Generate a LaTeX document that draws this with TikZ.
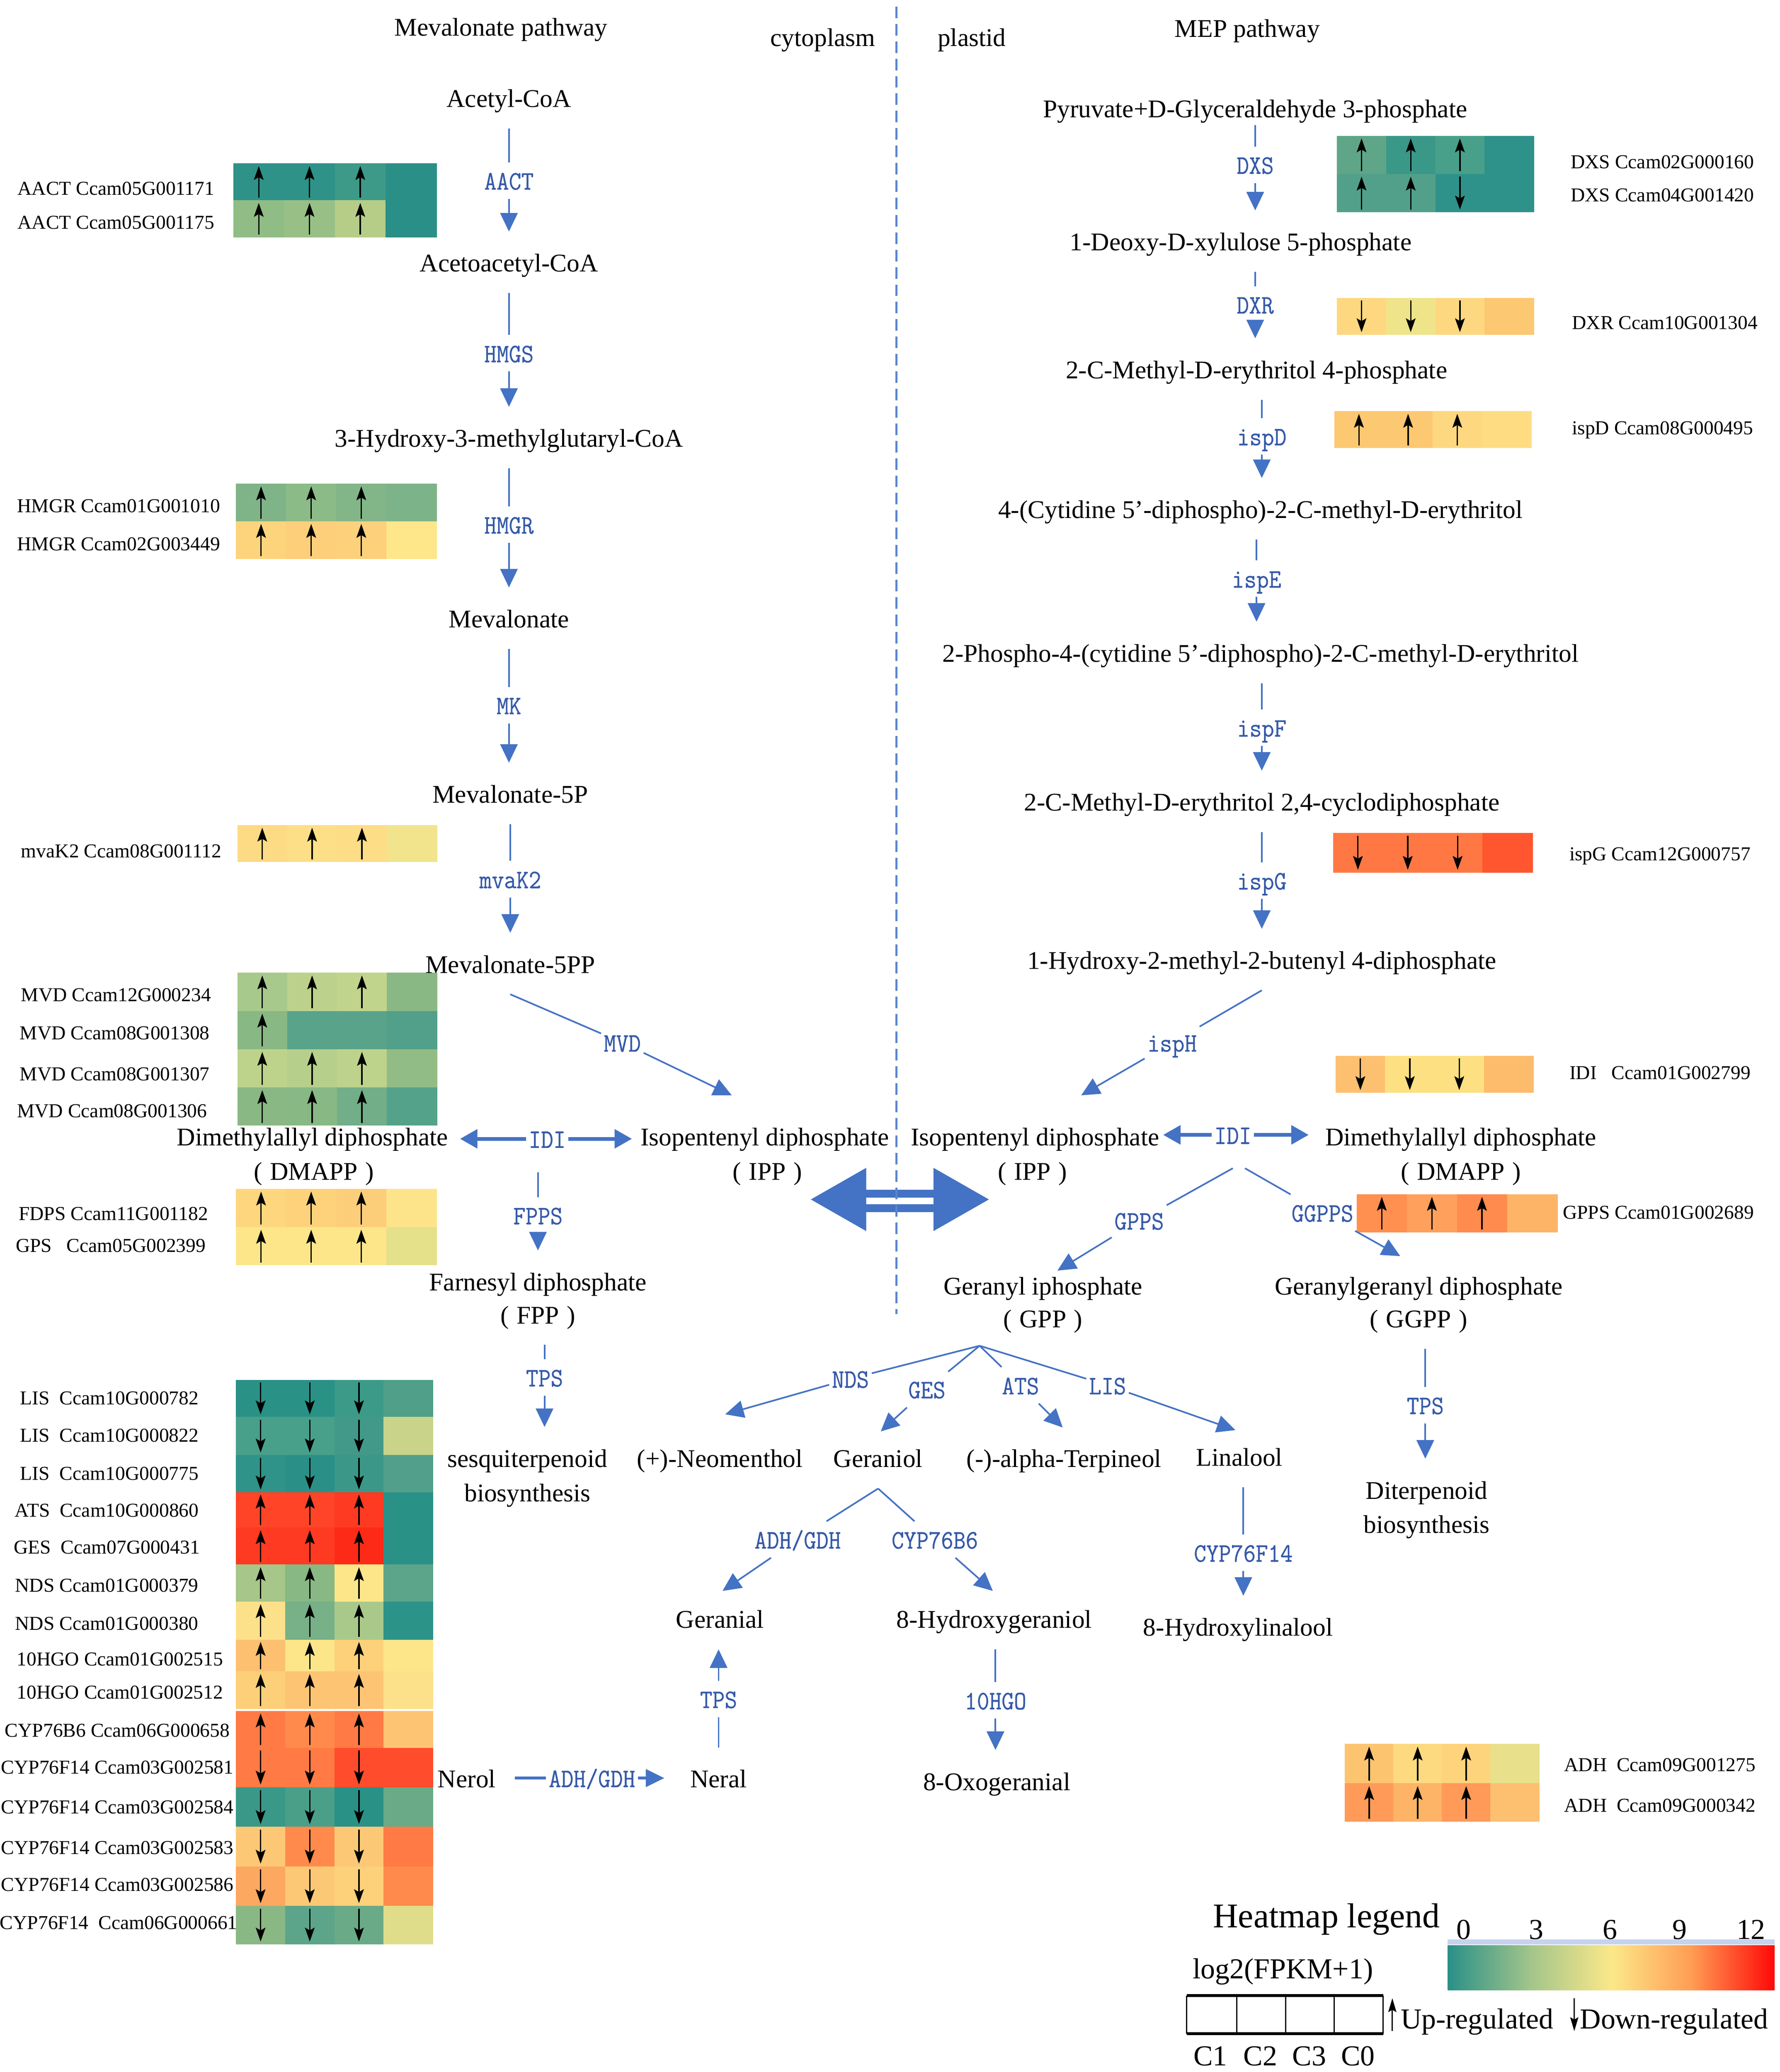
\documentclass[tikz,border=0pt]{standalone}
\usepackage{fontspec}
\setmainfont{Liberation Serif}
\newfontfamily\enzfam[FakeStretch=0.9,FakeBold=0.6]{Latin Modern Mono}
\usetikzlibrary{arrows.meta}
\definecolor{lnblue}{HTML}{4472C4}
\definecolor{enzblue}{HTML}{3559A8}
\definecolor{dashblue}{HTML}{5A86CC}
\definecolor{gA}{HTML}{2A9087}
\definecolor{gB}{HTML}{A2C58A}
\definecolor{gC}{HTML}{FCE88A}
\definecolor{gD}{HTML}{FF9A52}
\definecolor{gE}{HTML}{FF0808}
\definecolor{paleline}{HTML}{C6D3EE}
\newcommand\metfs{\fontsize{11}{13}\selectfont}
\newcommand\genefs{\fontsize{8.5}{10}\selectfont}
\newcommand\enzfs{\enzfam\fontsize{11.5}{13}\selectfont}
\newcommand\legfs{\fontsize{12.5}{15}\selectfont}
\newcommand\pp[1]{(\hspace{0.3em}#1\hspace{0.3em})}
\newcommand\heatrow[9]{%
  \foreach \hc [count=\k] in {#5,#6,#7,#8}{%
    \edef\tmpdef{\noexpand\definecolor{hmc}{HTML}{\hc}}\tmpdef
    \fill[hmc] ({#1+(\k-1)*#4},{#2}) rectangle ({#1+\k*#4+0.4},{#2+#3});
  }%
  \foreach \ha [count=\k] in {#9}{%
    \if u\ha \draw[hmarrow] ({#1+(\k-0.5)*#4},{#2+0.93*#3}) -- ({#1+(\k-0.5)*#4},{#2+0.07*#3});\fi
    \if d\ha \draw[hmarrow] ({#1+(\k-0.5)*#4},{#2+0.07*#3}) -- ({#1+(\k-0.5)*#4},{#2+0.93*#3});\fi
  }%
}
\begin{document}
\begin{tikzpicture}[x=0.02cm,y=-0.02cm,
  met/.style={font=\metfs, inner xsep=0pt, inner ysep=0pt, text height=10.4pt, text depth=2.2pt, minimum height=0.92cm},
  enz/.style={font=\enzfs, text=enzblue, inner xsep=1pt, inner ysep=0pt, text height=9.8pt, text depth=2pt, minimum height=0.54cm},
  idi/.style={enz, minimum height=1cm},
  gene/.style={font=\genefs, inner sep=0pt, text height=8.3pt, text depth=1.7pt},
  leg/.style={font=\legfs, inner sep=0pt, text height=14pt, text depth=2.5pt},
  conn/.style={draw=lnblue, line width=0.7pt},
  arr/.style={conn, -{Triangle[length=8pt,width=7.5pt]}},
  harr/.style={draw=lnblue, line width=1.6pt, -{Triangle[length=7.5pt,width=8pt]}},
  hmarrow/.style={black, line width=0.6pt, -{Stealth[length=6pt,width=4.2pt,inset=1.2pt]}},
]
\useasboundingbox (0,0) rectangle (1350,1572);

% ---------- titles ----------
\node[met] (ttlMVA) at (380,20) {Mevalonate pathway};
\node[met] (ttlCyto) at (624,28) {cytoplasm};
\node[met] (ttlPlas) at (737,28) {plastid};
\node[met] (ttlMEP) at (946,21) {MEP pathway};

% ---------- heatmaps (left) ----------
\heatrow{177}{124}{28}{38.5}{2E9288}{2E9288}{3E9A88}{2A8F87}{u,u,u,n}
\heatrow{177}{152}{28}{38.5}{8FBD85}{98C086}{B6CD88}{2A8F87}{u,u,u,n}
\heatrow{179}{367}{28.5}{38}{7FB488}{8BBB87}{82B688}{7DB388}{u,u,u,n}
\heatrow{179}{395.5}{28.5}{38}{FDD47C}{FDCF7A}{FDD07B}{FEE68A}{u,u,u,n}
\heatrow{180}{626}{28}{37.8}{FDDB84}{FDDF87}{FDDD85}{F2E48C}{u,u,u,n}
\heatrow{180}{738}{29}{37.8}{A8C98C}{BCD28C}{C1D48C}{8AB884}{u,u,u,n}
\heatrow{180}{767}{29}{37.8}{88B884}{58A38A}{58A38A}{52A089}{u,n,n,n}
\heatrow{180}{796}{29}{37.8}{BDD38C}{B6CF8B}{BDD38C}{92BC85}{u,u,u,n}
\heatrow{180}{825}{29}{37.8}{8AB884}{88B884}{72AE87}{55A28A}{u,u,u,n}
\heatrow{179}{902}{29}{38}{FDD67E}{FDD27B}{FDCE7A}{FDE48A}{u,u,u,n}
\heatrow{179}{931}{29}{38}{FDE68A}{FDE68A}{FDE68A}{E5E08A}{u,u,u,n}
\heatrow{179}{1047}{28}{37.3}{2A9187}{2A9187}{3C9A89}{4F9F89}{d,d,d,n}
\heatrow{179}{1075}{29}{37.3}{48A08A}{48A08A}{42998A}{C9D48A}{d,d,d,n}
\heatrow{179}{1104}{28}{37.3}{2F938A}{2A9087}{3B9889}{52A08B}{d,d,d,n}
\heatrow{179}{1132}{27}{37.3}{FF4428}{FF4428}{FF3A22}{2A9187}{u,u,u,n}
\heatrow{179}{1159}{28}{37.3}{FF3A22}{FF3A22}{FD2A18}{2A9187}{u,u,u,n}
\heatrow{179}{1187}{28}{37.3}{A7C68A}{88B884}{FDE68A}{5CA48A}{u,u,u,n}
\heatrow{179}{1215}{29}{37.3}{FDE18A}{78B087}{A9C98A}{2C9389}{u,u,u,n}
\heatrow{179}{1244}{24}{37.3}{FDC070}{FDE68A}{FDD07A}{FDE68A}{u,u,u,n}
\heatrow{179}{1268}{28.5}{37.3}{FDCF78}{FDC474}{FDC474}{FDE08A}{u,u,u,n}
\heatrow{179}{1298}{28}{37.3}{FF7A44}{FF8A4C}{FF7A44}{FDC474}{u,u,u,n}
\heatrow{179}{1326}{30}{37.3}{FF7A44}{FF7A44}{FF4C2C}{FF4C2C}{d,d,d,n}
\heatrow{179}{1356}{30}{37.3}{3A9889}{4A9F89}{2A9187}{6AAA87}{d,d,d,n}
\heatrow{179}{1386}{30}{37.3}{FDC876}{FF8A4C}{FDC876}{FF7A44}{d,d,d,n}
\heatrow{179}{1416}{30}{37.3}{FDA860}{FDC876}{FDD07A}{FF8A4C}{d,d,d,n}
\heatrow{179}{1446}{29}{37.3}{8AB884}{5CA48A}{6AAA87}{E0DD8A}{d,d,d,n}

% ---------- heatmaps (right) ----------
\heatrow{1014}{103}{29}{37.3}{5FA689}{3A9889}{48A08A}{2E928A}{u,u,u,n}
\heatrow{1014}{132}{29}{37.3}{52A08A}{52A08A}{2F928A}{2E928A}{u,u,d,n}
\heatrow{1014}{226}{28}{37.3}{FDD880}{F0E48A}{FDD880}{FDC872}{d,d,d,n}
\heatrow{1012}{312}{28}{37.3}{FDC872}{FDC872}{FDD880}{FDDC82}{u,u,u,n}
\heatrow{1011}{632}{30}{37.8}{FF7844}{FF7844}{FF7844}{FF5630}{d,d,d,n}
\heatrow{1013}{801}{28}{37.5}{FDC070}{FDE082}{FDE082}{FDBC6C}{d,d,d,n}
\heatrow{1029}{906}{29}{38}{FF9050}{FFA05C}{FF8C4E}{FDB466}{u,u,u,n}
\heatrow{1020}{1323}{30}{36.8}{FDC470}{FDDA80}{FDD47C}{E8E08A}{u,u,u,n}
\heatrow{1020}{1353}{29}{36.8}{FF9A58}{FDB466}{FF9A58}{FDC070}{u,u,u,n}

% ---------- gene labels ----------
\node[gene] (gAACT1) at (88,142) {AACT Ccam05G001171};
\node[gene] (gAACT2) at (88,168) {AACT Ccam05G001175};
\node[gene] (gHMGR1) at (90,383) {HMGR Ccam01G001010};
\node[gene] (gHMGR2) at (90,412) {HMGR Ccam02G003449};
\node[gene] (gMVAK) at (92,645) {mvaK2 Ccam08G001112};
\node[gene] (gMVD1) at (88,754) {MVD Ccam12G000234};
\node[gene] (gMVD2) at (87,783) {MVD Ccam08G001308};
\node[gene] (gMVD3) at (87,814) {MVD Ccam08G001307};
\node[gene] (gMVD4) at (85,842) {MVD Ccam08G001306};
\node[gene] (gFDPS) at (86,920) {FDPS Ccam11G001182};
\node[gene] (gGPS) at (84,944) {GPS\ \ \ Ccam05G002399};
\node[gene] (gLIS1) at (83,1060) {LIS\ \ Ccam10G000782};
\node[gene] (gLIS2) at (83,1088) {LIS\ \ Ccam10G000822};
\node[gene] (gLIS3) at (83,1117) {LIS\ \ Ccam10G000775};
\node[gene] (gATS) at (81,1145) {ATS\ \ Ccam10G000860};
\node[gene] (gGES) at (81,1173) {GES\ \ Ccam07G000431};
\node[gene] (gNDS1) at (81,1202) {NDS Ccam01G000379};
\node[gene] (gNDS2) at (81,1231) {NDS Ccam01G000380};
\node[gene] (gHGO1) at (91,1258) {10HGO Ccam01G002515};
\node[gene] (gHGO2) at (91,1283) {10HGO Ccam01G002512};
\node[gene] (gB6) at (89,1312) {CYP76B6 Ccam06G000658};
\node[gene] (gF1) at (89,1340) {CYP76F14 Ccam03G002581};
\node[gene] (gF2) at (89,1370) {CYP76F14 Ccam03G002584};
\node[gene] (gF3) at (89,1401) {CYP76F14 Ccam03G002583};
\node[gene] (gF4) at (89,1429) {CYP76F14 Ccam03G002586};
\node[gene] (gF5) at (90,1458) {CYP76F14\ \ Ccam06G000661};
\node[gene, anchor=west] (gDXS1) at (1191,122) {DXS Ccam02G000160};
\node[gene, anchor=west] (gDXS2) at (1191,147) {DXS Ccam04G001420};
\node[gene, anchor=west] (gDXR) at (1192,244) {DXR Ccam10G001304};
\node[gene, anchor=west] (gISPD) at (1192,324) {ispD Ccam08G000495};
\node[gene, anchor=west] (gISPG) at (1190,647) {ispG Ccam12G000757};
\node[gene, anchor=west] (gIDI) at (1190,813) {IDI\ \ \ Ccam01G002799};
\node[gene, anchor=west] (gGPPS) at (1185,919) {GPPS Ccam01G002689};
\node[gene, anchor=west] (gADH1) at (1186,1338) {ADH\ \ Ccam09G001275};
\node[gene, anchor=west] (gADH2) at (1186,1369) {ADH\ \ Ccam09G000342};

% ---------- MVA pathway ----------
\node[met] (acetyl) at (386,74) {Acetyl-CoA};
\node[enz] (aact) at (386,137) {AACT};
\node[met] (acetoacetyl) at (386,199) {Acetoacetyl-CoA};
\node[enz] (hmgs) at (386,268) {HMGS};
\node[met] (hmgcoa) at (386,332) {3-Hydroxy-3-methylglutaryl-CoA};
\node[enz] (hmgr) at (386,398) {HMGR};
\node[met] (mev) at (386,469) {Mevalonate};
\node[enz] (mk) at (386,535) {MK};
\node[met] (mevp) at (387,602) {Mevalonate-5P};
\node[enz] (mvak) at (387,667) {mvaK2};
\node[met] (mevpp) at (387,731) {Mevalonate-5PP};
\node[enz] (mvd) at (472,791) {MVD};
\coordinate (tipMVD) at (555,831);
\node[met] (ippL) at (580,862) {Isopentenyl diphosphate};
\node[met] (ippLb) at (582,888) {\pp{IPP}};
\node[met] (dmappL) at (237,862) {Dimethylallyl diphosphate};
\node[met] (dmappLb) at (238,888) {\pp{DMAPP}};
\node[idi] (idiL) at (415,864) {IDI};
\node[enz] (fpps) at (408,922) {FPPS};
\node[met] (fpp) at (408,972) {Farnesyl diphosphate};
\node[met] (fppb) at (408,997) {\pp{FPP}};
\node[enz] (tpsL) at (413,1045) {TPS};
\node[met] (sesq) at (400,1106) {sesquiterpenoid};
\node[met] (sesqb) at (400,1132) {biosynthesis};

\draw[conn] (acetyl) -- (aact);
\draw[arr] (aact) -- (acetoacetyl);
\draw[conn] (acetoacetyl) -- (hmgs);
\draw[arr] (hmgs) -- (hmgcoa);
\draw[conn] (hmgcoa) -- (hmgr);
\draw[arr] (hmgr) -- (mev);
\draw[conn] (mev.south -| mk) -- (mk);
\draw[arr] (mk) -- (mk |- mevp.north);
\draw[conn] (mevp) -- (mvak);
\draw[arr] (mvak) -- (mevpp);
\draw[conn] (mevpp.south) -- (mvd);
\draw[arr] (mvd) -- (tipMVD);
\draw[harr, shorten >=5pt] (idiL.west) -- (idiL.west -| dmappL.east);
\draw[harr, shorten >=3.5pt] (idiL.east) -- (idiL.east -| ippL.west);
\draw[conn] (idiL.south -| fpps) -- (fpps);
\draw[arr] (fpps) -- (fpps |- fpp.north);
\draw[conn] (tpsL |- fppb.south) -- (tpsL);
\draw[arr] (tpsL) -- (tpsL |- sesq.north);

% ---------- MEP pathway ----------
\node[met] (pyr) at (952,82) {Pyruvate+D-Glyceraldehyde 3-phosphate};
\node[enz] (dxs) at (952,125) {DXS};
\node[met] (dxp) at (941,183) {1-Deoxy-D-xylulose 5-phosphate};
\node[enz] (dxr) at (952,231) {DXR};
\node[met] (mep4p) at (953,280) {2-C-Methyl-D-erythritol 4-phosphate};
\node[enz] (ispd) at (957,331) {ispD};
\node[met] (cdpme) at (956,386) {4-(Cytidine 5'-diphospho)-2-C-methyl-D-erythritol};
\node[enz] (ispe) at (953,439) {ispE};
\node[met] (cdpmep) at (956,495) {2-Phospho-4-(cytidine 5'-diphospho)-2-C-methyl-D-erythritol};
\node[enz] (ispf) at (957,552) {ispF};
\node[met] (mecpp) at (957,608) {2-C-Methyl-D-erythritol 2,4-cyclodiphosphate};
\node[enz] (ispg) at (957,668) {ispG};
\node[met] (hmbpp) at (957,728) {1-Hydroxy-2-methyl-2-butenyl 4-diphosphate};
\node[enz] (isph) at (889,791) {ispH};
\coordinate (tipH) at (820,831);
\node[met] (ippR) at (785,862) {Isopentenyl diphosphate};
\node[met] (ippRb) at (783,888) {\pp{IPP}};
\node[idi] (idiR) at (935,861) {IDI};
\node[met] (dmappR) at (1108,862) {Dimethylallyl diphosphate};
\node[met] (dmappRb) at (1108,888) {\pp{DMAPP}};
\node[enz] (gpps) at (864,926) {GPPS};
\coordinate (tipGPPS) at (802,964);
\node[enz] (ggpps) at (1003,920) {GGPPS};
\coordinate (tipGGPPS) at (1062,953);
\node[met] (gpp) at (791,975) {Geranyl iphosphate};
\node[met] (gppb) at (791,1000) {\pp{GPP}};
\node[met] (ggpp) at (1076,975) {Geranylgeranyl diphosphate};
\node[met] (ggppb) at (1076,1000) {\pp{GGPP}};
\node[enz] (tpsR) at (1081,1066) {TPS};
\node[met] (diter) at (1082,1130) {Diterpenoid};
\node[met] (diterb) at (1082,1156) {biosynthesis};

\draw[conn, shorten <=-6pt] (dxs |- pyr.south) -- (dxs);
\draw[arr] (dxs) -- (dxs |- dxp.north);
\draw[conn] (dxr |- dxp.south) -- (dxr);
\draw[arr] (dxr) -- (dxr |- mep4p.north);
\draw[conn] (ispd |- mep4p.south) -- (ispd);
\draw[arr] (ispd) -- (ispd |- cdpme.north);
\draw[conn] (ispe |- cdpme.south) -- (ispe);
\draw[arr] (ispe) -- (ispe |- cdpmep.north);
\draw[conn] (ispf |- cdpmep.south) -- (ispf);
\draw[arr] (ispf) -- (ispf |- mecpp.north);
\draw[conn] (ispg |- mecpp.south) -- (ispg);
\draw[arr] (ispg) -- (ispg |- hmbpp.north);
\draw[conn] (hmbpp.south) -- (isph);
\draw[arr] (isph) -- (tipH);
\draw[harr, shorten >=1.5pt] (idiR.west) -- (idiR.west -| ippR.east);
\draw[harr, shorten >=7pt] (idiR.east) -- (idiR.east -| dmappR.west);
\draw[conn] (idiR.south) -- (gpps);
\draw[arr] (gpps) -- (tipGPPS);
\draw[conn] (idiR.-70) -- (ggpps);
\draw[arr] (ggpps) -- (tipGGPPS);
\draw[conn] (tpsR |- ggppb.south) -- (tpsR);
\draw[arr] (tpsR) -- (tpsR |- diter.north);

% ---------- monoterpenes ----------
\coordinate (gppApex) at (743,1021);
\node[enz] (nds) at (645,1046) {NDS};
\node[enz] (ges) at (703,1054) {GES};
\node[enz] (ats) at (774,1051) {ATS};
\node[enz] (lis) at (840,1051) {LIS};
\coordinate (tipNDS) at (550,1073);
\coordinate (tipGES) at (668,1086);
\coordinate (tipATS) at (806,1083);
\coordinate (tipLIS) at (937,1085);
\node[met] (neomenthol) at (546,1106) {(+)-Neomenthol};
\node[met] (geraniol) at (666,1106) {Geraniol};
\node[met] (terpineol) at (807,1106) {(-)-alpha-Terpineol};
\node[met] (linalool) at (940,1105) {Linalool};
\node[enz] (adhG) at (605,1168) {ADH/GDH};
\node[enz] (cypb6) at (709,1168) {CYP76B6};
\coordinate (tipADH) at (548,1207);
\coordinate (tipB6) at (753,1207);
\node[met] (geranial) at (546,1228) {Geranial};
\node[met] (hger) at (754,1228) {8-Hydroxygeraniol};
\node[enz] (cypf14) at (943,1178) {CYP76F14};
\node[met] (hlin) at (939,1234) {8-Hydroxylinalool};
\node[enz] (tpsN) at (545,1289) {TPS};
\node[met] (neral) at (545,1349) {Neral};
\node[met] (nerol) at (354,1349) {Nerol};
\node[enz] (adhN) at (449,1349) {ADH/GDH};
\node[enz] (hgo) at (755,1290) {10HGO};
\node[met] (oxo) at (756,1351) {8-Oxogeranial};

\draw[conn] (gppApex) -- (nds);
\draw[arr] (nds) -- (tipNDS);
\draw[conn] (gppApex) -- (ges);
\draw[arr] (ges) -- (tipGES);
\draw[conn] (gppApex) -- (ats);
\draw[arr] (ats) -- (tipATS);
\draw[conn] (gppApex) -- (lis);
\draw[arr] (lis) -- (tipLIS);
\draw[conn] (geraniol.south) -- (adhG);
\draw[arr] (adhG) -- (tipADH);
\draw[conn] (geraniol.south) -- (cypb6);
\draw[arr] (cypb6) -- (tipB6);
\draw[conn] (cypf14 |- linalool.south) -- (cypf14);
\draw[arr] (cypf14) -- (cypf14 |- hlin.north);
\draw[conn] (neral) -- (tpsN);
\draw[arr] (tpsN) -- (tpsN |- geranial.south);
\draw[conn, line width=1.2pt, shorten <=8pt] (nerol.east) -- (adhN.west);
\draw[arr, line width=1.2pt, shorten >=11pt] (adhN.east) -- (neral.west);
\draw[conn] (hgo |- hger.south) -- (hgo);
\draw[arr] (hgo) -- (hgo |- oxo.north);

% ---------- double arrow between compartments ----------
\fill[lnblue] (615,910) -- (657,886) -- (657,934) -- cycle;
\fill[lnblue] (750,910) -- (708,886) -- (708,934) -- cycle;
\fill[lnblue] (656,902.5) rectangle (709,908.5);
\fill[lnblue] (656,913.5) rectangle (709,919.5);

% ---------- compartment divider ----------
\draw[dashblue, line width=0.9pt, dash pattern=on 5pt off 2.5pt] (680,5) -- (680,997);

% ---------- legend ----------
\node[font=\fontsize{15}{18}\selectfont, inner sep=0pt, text height=17pt, text depth=3pt] (hmleg) at (1006,1450) {Heatmap legend};
\node[leg] (n0) at (1110,1461) {0};
\node[leg] (n3) at (1165,1461) {3};
\node[leg] (n6) at (1221,1461) {6};
\node[leg] (n9) at (1274,1461) {9};
\node[leg] (n12) at (1328,1461) {12};
\fill[paleline] (1098,1471.5) rectangle (1346,1475);
\shade[left color=gA, right color=gB] (1098,1476) rectangle (1161,1510);
\shade[left color=gB, right color=gC] (1160,1476) rectangle (1223,1510);
\shade[left color=gC, right color=gD] (1222,1476) rectangle (1285,1510);
\shade[left color=gD, right color=gE] (1284,1476) rectangle (1346,1510);
\node[leg] (logl) at (973,1491) {log2(FPKM+1)};
\draw[line width=0.5pt] (900,1514) -- (900,1543) (938,1514) -- (938,1543) (975,1514) -- (975,1543) (1012,1514) -- (1012,1543) (1049,1514) -- (1049,1543);
\draw[line width=1.2pt] (900,1514) -- (1049,1514) (900,1543) -- (1049,1543);
\node[leg] (c1) at (918,1557) {C1};
\node[leg] (c2) at (956,1557) {C2};
\node[leg] (c3) at (993,1557) {C3};
\node[leg] (c0) at (1030,1557) {C0};
\coordinate (upA) at (1056,1541);
\coordinate (upB) at (1056,1516);
\draw[line width=0.6pt, -{Stealth[length=6pt,width=3.5pt,inset=1pt]}] (upA) -- (upB);
\node[leg, anchor=west] (upl) at (1062,1529) {Up-regulated};
\coordinate (dnA) at (1194,1516);
\coordinate (dnB) at (1194,1541);
\draw[line width=0.6pt, -{Stealth[length=6pt,width=3.5pt,inset=1pt]}] (dnA) -- (dnB);
\node[leg, anchor=west] (dnl) at (1198,1529) {Down-regulated};
\end{tikzpicture}
\end{document}
